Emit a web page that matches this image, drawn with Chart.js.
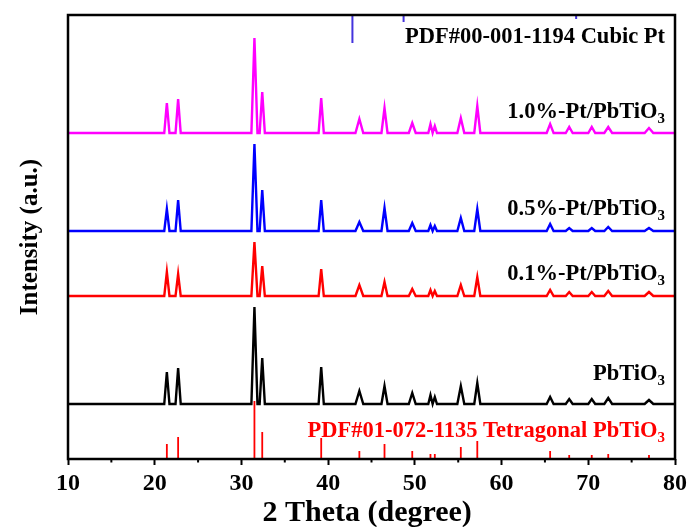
<!DOCTYPE html>
<html>
<head>
<meta charset="utf-8">
<script src="https://cdn.jsdelivr.net/npm/chart.js@4.4.0/dist/chart.umd.min.js"></script>
<style>
  body { margin: 0; background: #fff; }
  #wrap { width: 691px; height: 527px; }
</style>
</head>
<body>
<div id="wrap"><canvas id="xrd"></canvas></div>
<script>
// peak positions (2 theta, degree)
const peakPos   = [21.4, 22.7, 31.5, 32.4, 39.2, 43.6, 46.5, 49.7, 51.8, 52.3, 55.3, 57.2, 65.6, 67.8, 70.4, 72.3, 77.0];
const peakWidth = [0.3, 0.3, 0.35, 0.3, 0.3, 0.45, 0.35, 0.4, 0.25, 0.25, 0.4, 0.35, 0.4, 0.4, 0.4, 0.45, 0.5];

// peak heights above each pattern's baseline (a.u.)
const hPbTiO3 = [32, 36, 97, 46, 37, 13, 18, 11, 9, 7, 18, 21, 7, 5, 5, 6, 4];
const hPt01   = [24, 22, 54, 30, 27, 11, 14, 7, 6, 5, 11, 19, 6, 4, 4, 5, 4];
const hPt05   = [22, 31, 87, 41, 31, 9, 23, 8, 6, 5, 13, 22, 7, 3, 3, 4, 3];
const hPt10   = [30, 34, 95, 41, 35, 14, 25, 10, 9, 7, 15, 27, 9, 6, 6, 6, 5];

// vertical offsets of the stacked patterns
const basePbTiO3 = 55;
const basePt01 = 163;
const basePt05 = 228;
const basePt10 = 326;

// reference cards
const tetraHeights = [15, 22, 58, 27, 21, 8, 15, 8, 5, 5, 12, 18, 8, 4, 4, 5, 4];
const ptPos = [42.8, 48.7, 68.6];
const ptLength = [28, 7, 4];
const yTop = 444;

const serif = "'Liberation Serif', 'Times New Roman', serif";

function pattern(heights, base) {
  const pts = [{ x: 10, y: base }];
  peakPos.forEach((p, i) => {
    const w = peakWidth[i];
    pts.push({ x: p - w, y: base }, { x: p, y: base + heights[i] }, { x: p + w, y: base });
  });
  pts.push({ x: 80, y: base });
  return pts;
}

function sticks(pos, from, to) {
  const pts = [];
  pos.forEach((p, i) => {
    pts.push({ x: p, y: from[i] }, { x: p, y: to[i] }, { x: p, y: null });
  });
  return pts;
}

function line(data, color, width) {
  return { data, borderColor: color, borderWidth: width, pointRadius: 0, tension: 0, fill: false, spanGaps: false };
}

// text labels: [main, subscript, y value, colour]
const labels = [
  ['PDF#00-001-1194 Cubic Pt', '', 416, '#000'],
  ['1.0%-Pt/PbTiO', '3', 341, '#000'],
  ['0.5%-Pt/PbTiO', '3', 244, '#000'],
  ['0.1%-Pt/PbTiO', '3', 179, '#000'],
  ['PbTiO', '3', 79, '#000'],
  ['PDF#01-072-1135 Tetragonal PbTiO', '3', 22, '#ff0000']
];

const decor = {
  id: 'decor',
  beforeDraw(chart) {
    const c = chart.ctx;
    c.save();
    c.fillStyle = '#fff';
    c.fillRect(0, 0, chart.width, chart.height);
    c.restore();
  },
  afterDraw(chart) {
    const c = chart.ctx, a = chart.chartArea, xs = chart.scales.x, ys = chart.scales.y;
    c.save();
    // frame
    c.strokeStyle = '#000';
    c.lineWidth = 2.5;
    c.strokeRect(a.left, a.top, a.right - a.left, a.bottom - a.top);
    // minor ticks
    c.lineWidth = 2;
    for (let v = 15; v < 80; v += 10) {
      const px = xs.getPixelForValue(v);
      c.beginPath();
      c.moveTo(px, a.bottom);
      c.lineTo(px, a.bottom + 3.5);
      c.stroke();
    }
    // x axis title (sits a little left of centre in the original)
    c.fillStyle = '#000';
    c.font = 'bold 30px ' + serif;
    c.textAlign = 'center';
    c.textBaseline = 'middle';
    c.fillText('2 Theta (degree)', xs.getPixelForValue(44.5), 513);
    // labels
    c.textBaseline = 'alphabetic';
    labels.forEach(([txt, sub, yv, col]) => {
      const y = ys.getPixelForValue(yv);
      let x = a.right - 10;
      c.fillStyle = col;
      if (sub) {
        c.font = 'bold 15px ' + serif;
        const sw = c.measureText(sub).width;
        c.textAlign = 'right';
        c.fillText(sub, x, y + 5);
        x -= sw;
      }
      c.font = 'bold 22.5px ' + serif;
      c.textAlign = 'right';
      c.fillText(txt, x, y);
    });
    c.restore();
  }
};

new Chart(document.getElementById('xrd'), {
  type: 'line',
  data: {
    datasets: [
      line(pattern(hPt10, basePt10), '#ff00ff', 2.4),
      line(pattern(hPt05, basePt05), '#0000ff', 2.4),
      line(pattern(hPt01, basePt01), '#ff0000', 2.4),
      line(pattern(hPbTiO3, basePbTiO3), '#000000', 2.4),
      line(sticks(peakPos, peakPos.map(() => 0), tetraHeights), '#ff0000', 1.8),
      line(sticks(ptPos, ptPos.map(() => yTop), ptLength.map(l => yTop - l)), '#4433dd', 2)
    ]
  },
  options: {
    responsive: true,
    maintainAspectRatio: false,
    animation: false,
    layout: { padding: { top: 15, right: 14, left: 0, bottom: 0 } },
    plugins: { legend: { display: false }, tooltip: { enabled: false } },
    scales: {
      x: {
        type: 'linear',
        min: 10,
        max: 80,
        afterFit: s => { s.height = 68; },
        ticks: { stepSize: 10, color: '#000', padding: 4, font: { family: serif, size: 24, weight: 'bold' } },
        grid: { drawOnChartArea: false, color: '#000', tickLength: 6, tickWidth: 2 },
        border: { display: false },
        title: { display: false }
      },
      y: {
        min: 0,
        max: yTop,
        afterFit: s => { s.width = 68; },
        ticks: { display: false },
        grid: { display: false },
        border: { display: false },
        title: {
          display: true,
          text: 'Intensity (a.u.)',
          color: '#000',
          padding: { top: 18, bottom: 0 },
          font: { family: serif, size: 25, weight: 'bold', lineHeight: 1 }
        }
      }
    }
  },
  plugins: [decor]
});
</script>
</body>
</html>
